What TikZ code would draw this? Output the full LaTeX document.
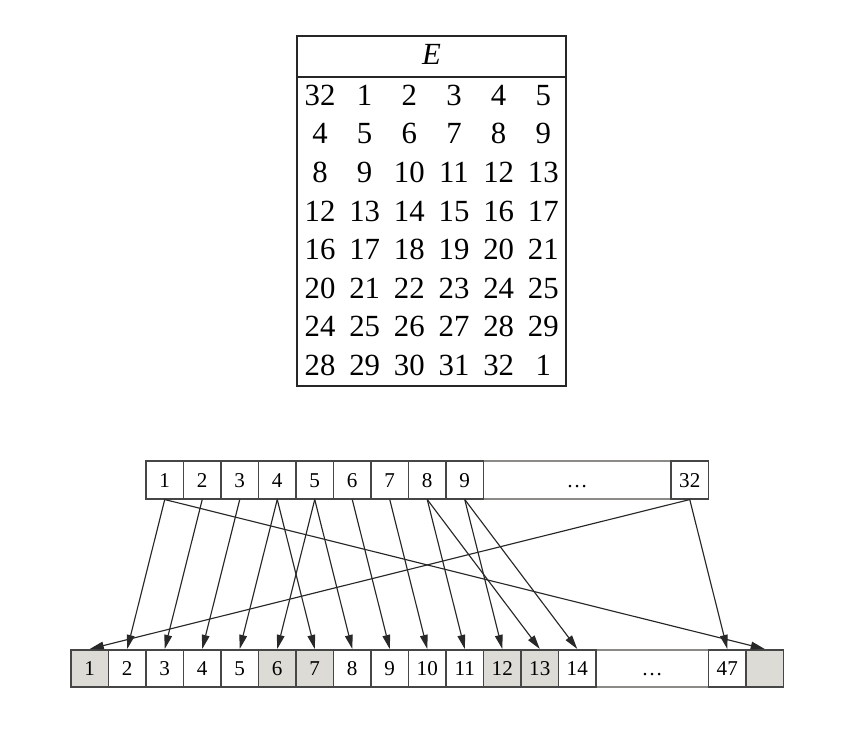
\documentclass[tikz,border=0pt]{standalone}
\usepackage{fontspec}
\setmainfont{Liberation Serif}
\usetikzlibrary{arrows.meta}
\definecolor{shade}{RGB}{221,219,213}
\definecolor{rim}{RGB}{70,70,70}
\definecolor{dimrim}{RGB}{140,138,135}
\definecolor{wirecol}{RGB}{40,40,40}
\tikzset{
  entry/.style={inner sep=0pt, text height=11.8pt, text depth=0pt,
    font=\fontsize{17.5}{20}\selectfont},
  cell/.style={draw=rim, line width=0.9pt, inner sep=0pt,
    minimum width=0.75cm, minimum height=0.75cm,
    text height=8pt, text depth=0pt, font=\fontsize{12}{13}\selectfont},
  shadecell/.style={cell, fill=shade},
  gapcell/.style={cell, draw=dimrim},
  wire/.style={draw=wirecol, line width=0.65pt,
    -{Triangle[length=8pt,width=4.4pt]}}
}
\begin{document}
\begin{tikzpicture}
\useasboundingbox (0,0) rectangle (16.98,15.06);

% Drawing table E
\draw [draw=black!85, line width=1.5pt] (5.94,7.34) rectangle (11.32,14.34);
\draw [draw=black!85, line width=1.6pt] (5.94,13.52) -- (11.32,13.52);
\node [entry] (head) at (8.630,13.980) {\textit{E}};

% Rows of table E
\path (6.400,13.160) node[entry] (r1c1) {32} (7.293,13.160) node[entry] (r1c2) {1}  (8.186,13.160) node[entry] (r1c3) {2}  (9.080,13.160) node[entry] (r1c4) {3}  (9.973,13.160) node[entry] (r1c5) {4}  (10.866,13.160) node[entry] (r1c6) {5};
\path (6.400,12.388) node[entry] (r2c1) {4}  (7.293,12.388) node[entry] (r2c2) {5}  (8.186,12.388) node[entry] (r2c3) {6}  (9.080,12.388) node[entry] (r2c4) {7}  (9.973,12.388) node[entry] (r2c5) {8}  (10.866,12.388) node[entry] (r2c6) {9};
\path (6.400,11.618) node[entry] (r3c1) {8}  (7.293,11.618) node[entry] (r3c2) {9}  (8.186,11.618) node[entry] (r3c3) {10} (9.080,11.618) node[entry] (r3c4) {11} (9.973,11.618) node[entry] (r3c5) {12} (10.866,11.618) node[entry] (r3c6) {13};
\path (6.400,10.846) node[entry] (r4c1) {12} (7.293,10.846) node[entry] (r4c2) {13} (8.186,10.846) node[entry] (r4c3) {14} (9.080,10.846) node[entry] (r4c4) {15} (9.973,10.846) node[entry] (r4c5) {16} (10.866,10.846) node[entry] (r4c6) {17};
\path (6.400,10.074) node[entry] (r5c1) {16} (7.293,10.074) node[entry] (r5c2) {17} (8.186,10.074) node[entry] (r5c3) {18} (9.080,10.074) node[entry] (r5c4) {19} (9.973,10.074) node[entry] (r5c5) {20} (10.866,10.074) node[entry] (r5c6) {21};
\path (6.400,9.302)  node[entry] (r6c1) {20} (7.293,9.302)  node[entry] (r6c2) {21} (8.186,9.302)  node[entry] (r6c3) {22} (9.080,9.302)  node[entry] (r6c4) {23} (9.973,9.302)  node[entry] (r6c5) {24} (10.866,9.302)  node[entry] (r6c6) {25};
\path (6.400,8.532)  node[entry] (r7c1) {24} (7.293,8.532)  node[entry] (r7c2) {25} (8.186,8.532)  node[entry] (r7c3) {26} (9.080,8.532)  node[entry] (r7c4) {27} (9.973,8.532)  node[entry] (r7c5) {28} (10.866,8.532)  node[entry] (r7c6) {29};
\path (6.400,7.760)  node[entry] (r8c1) {28} (7.293,7.760)  node[entry] (r8c2) {29} (8.186,7.760)  node[entry] (r8c3) {30} (9.080,7.760)  node[entry] (r8c4) {31} (9.973,7.760)  node[entry] (r8c5) {32} (10.866,7.760)  node[entry] (r8c6) {1};

% Drawing input block (32 bits)
\node [gapcell, minimum width=3.75cm] (tgap) at (11.545,5.46) {\ldots};
\node [cell] (t1) at (3.295,5.46) {1};
\node [cell] (t2) at (4.045,5.46) {2};
\node [cell] (t3) at (4.795,5.46) {3};
\node [cell] (t4) at (5.545,5.46) {4};
\node [cell] (t5) at (6.295,5.46) {5};
\node [cell] (t6) at (7.045,5.46) {6};
\node [cell] (t7) at (7.795,5.46) {7};
\node [cell] (t8) at (8.545,5.46) {8};
\node [cell] (t9) at (9.295,5.46) {9};
\node [cell] (t32) at (13.795,5.46) {32};

% Drawing output block (48 bits)
\node [gapcell, minimum width=2.25cm] (bgap) at (13.045,1.69) {\ldots};
\node [shadecell] (b1) at (1.795,1.69) {1};
\node [cell] (b2) at (2.545,1.69) {2};
\node [cell] (b3) at (3.295,1.69) {3};
\node [cell] (b4) at (4.045,1.69) {4};
\node [cell] (b5) at (4.795,1.69) {5};
\node [shadecell] (b6) at (5.545,1.69) {6};
\node [shadecell] (b7) at (6.295,1.69) {7};
\node [cell] (b8) at (7.045,1.69) {8};
\node [cell] (b9) at (7.795,1.69) {9};
\node [cell] (b10) at (8.545,1.69) {10};
\node [cell] (b11) at (9.295,1.69) {11};
\node [shadecell] (b12) at (10.045,1.69) {12};
\node [shadecell] (b13) at (10.795,1.69) {13};
\node [cell] (b14) at (11.545,1.69) {14};
\node [cell] (b47) at (14.545,1.69) {47};
\node [shadecell] (b48) at (15.295,1.69) {};

% Drawing expansion wires
\draw [wire] (t32.south) -- (b1.north);
\draw [wire] (t1.south) -- (b2.north);
\draw [wire] (t2.south) -- (b3.north);
\draw [wire] (t3.south) -- (b4.north);
\draw [wire] (t4.south) -- (b5.north);
\draw [wire] (t5.south) -- (b6.north);
\draw [wire] (t4.south) -- (b7.north);
\draw [wire] (t5.south) -- (b8.north);
\draw [wire] (t6.south) -- (b9.north);
\draw [wire] (t7.south) -- (b10.north);
\draw [wire] (t8.south) -- (b11.north);
\draw [wire] (t9.south) -- (b12.north);
\draw [wire] (t8.south) -- (b13.north);
\draw [wire] (t9.south) -- (b14.north);
\draw [wire] (t32.south) -- (b47.north);
\draw [wire] (t1.south) -- (b48.north);
\end{tikzpicture}
\end{document}
